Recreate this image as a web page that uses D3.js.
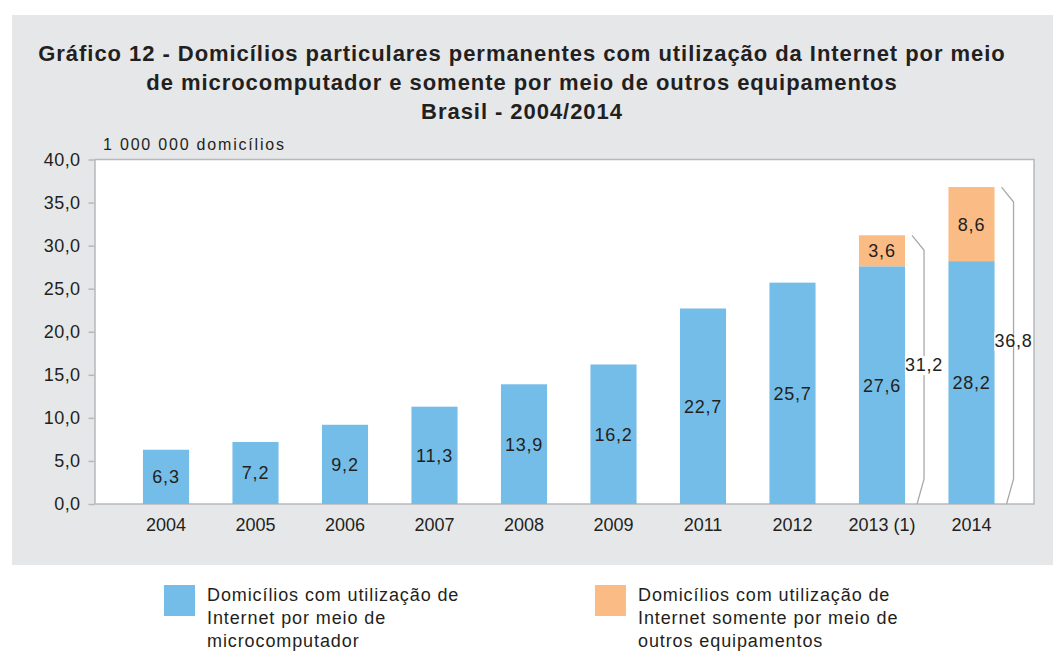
<!DOCTYPE html>
<html><head><meta charset="utf-8">
<script src="https://cdn.jsdelivr.net/npm/d3@7"></script>
<style>body{margin:0;background:#fff}svg{display:block}text{font-family:"Liberation Sans",Arial,Helvetica,sans-serif}</style>
</head><body><svg id="c" width="1053" height="651"></svg>
<script>
const categories = ["2004","2005","2006","2007","2008","2009","2011","2012","2013 (1)","2014"];
const microValues = [6.3,7.2,9.2,11.3,13.9,16.2,22.7,25.7,27.6,28.2];
const otherValues = [0,0,0,0,0,0,0,0,3.6,8.6];
const totalLabels = [null,null,null,null,null,null,null,null,31.2,36.8];
const yTicks = [0,5,10,15,20,25,30,35,40];
const titleLines = ["Gráfico 12 - Domicílios particulares permanentes com utilização da Internet por meio","de microcomputador e somente por meio de outros equipamentos","Brasil - 2004/2014"];
const unitLabel = "1 000 000 domicílios";
const legendItems = [
  {lines:["Domicílios com utilização de","Internet por meio de","microcomputador"], color:"#74bde8"},
  {lines:["Domicílios com utilização de","Internet somente por meio de","outros equipamentos"], color:"#fabb85"}
];

const svg = d3.select("#c");
const fmt = v => d3.format(".1f")(v).replace(".", ",");
const blue = "#74bde8", orange = "#fabb85", txt = "#231f20";
const FF = "Liberation Sans, Arial, sans-serif";

// background panel
svg.append("rect").attr("x",12).attr("y",15).attr("width",1041).attr("height",550).attr("fill","#e6e7e9");

// title
svg.append("g").selectAll("text").data(titleLines).join("text")
  .attr("x",522).attr("y",(d,i)=>61+i*29).attr("text-anchor","middle")
  .attr("font-size",22).attr("font-weight","bold").attr("letter-spacing",0.95).attr("fill",txt).text(d=>d);

const plot = {l:95, r:1034, t:159.5, b:504};
const y = d3.scaleLinear().domain([0,40]).range([plot.b, plot.t]);
const x = d3.scaleBand().domain(categories).range([121.25,1016.25]).paddingInner(0.485).paddingOuter(0.2425);

svg.append("rect").attr("x",plot.l).attr("y",plot.t).attr("width",plot.r-plot.l).attr("height",plot.b-plot.t)
  .attr("fill","#fff").attr("stroke","#b7b8ba").attr("stroke-width",1.5);

// y axis
const yAxis = d3.axisLeft(y).tickValues(yTicks).tickFormat(fmt).tickSize(6).tickPadding(8);
const ga = svg.append("g").attr("transform",`translate(${plot.l-0.5},0)`).call(yAxis);
ga.select(".domain").remove();
ga.selectAll(".tick line").attr("stroke","#b7b8ba").attr("stroke-width",1.5);
ga.selectAll(".tick text").attr("font-size",18).attr("letter-spacing",0.4).attr("fill",txt).attr("font-family",FF);

svg.append("text").attr("x",103).attr("y",150).attr("font-size",16).attr("fill",txt).attr("letter-spacing",1.8).text(unitLabel);

// x axis
const xAxis = d3.axisBottom(x).tickSize(0).tickPadding(14);
const gx = svg.append("g").attr("transform",`translate(0,${plot.b})`).call(xAxis);
gx.select(".domain").remove();
gx.selectAll(".tick text").attr("font-size",18).attr("fill",txt).attr("font-family",FF);

const data = categories.map((c,i)=>({c, m:microValues[i], o:otherValues[i], t:totalLabels[i]}));

// bars
svg.append("g").selectAll("rect").data(data).join("rect")
  .attr("x",d=>x(d.c)).attr("width",x.bandwidth())
  .attr("y",d=>y(d.m)).attr("height",d=>y(0)-y(d.m)).attr("fill",blue);
svg.append("g").selectAll("rect").data(data.filter(d=>d.o>0)).join("rect")
  .attr("x",d=>x(d.c)).attr("width",x.bandwidth())
  .attr("y",d=>y(d.m+d.o)).attr("height",d=>y(d.m)-y(d.m+d.o)).attr("fill",orange);

// labels
svg.append("g").selectAll("text").data(data).join("text")
  .attr("x",d=>x(d.c)+x.bandwidth()/2).attr("y",d=>(y(d.m)+y(0))/2+6.5)
  .attr("text-anchor","middle").attr("font-size",18).attr("fill",txt).attr("letter-spacing",0.8).text(d=>fmt(d.m));
svg.append("g").selectAll("text").data(data.filter(d=>d.o>0)).join("text")
  .attr("x",d=>x(d.c)+x.bandwidth()/2).attr("y",d=>(y(d.m)+y(d.m+d.o))/2+6.5)
  .attr("text-anchor","middle").attr("font-size",18).attr("fill",txt).attr("letter-spacing",0.8).text(d=>fmt(d.o));

// brackets
const br = svg.append("g");
data.filter(d=>d.t!=null).forEach(d=>{
  const xr = x(d.c)+x.bandwidth();
  const yt = y(d.m+d.o), y0 = y(0);
  br.append("path").attr("d",`M${xr+7},${yt} L${xr+19},${yt+15} L${xr+19},${y0-25} L${xr+12},${y0}`)
    .attr("fill","none").attr("stroke","#a7a9ac").attr("stroke-width",1.3);
  const cy = (yt+y0)/2 - 5;
  const t = br.append("text").attr("x",xr+19).attr("y",cy+6.5).attr("text-anchor","middle")
    .attr("font-size",18).attr("fill",txt).attr("letter-spacing",0.8).text(fmt(d.t));
  const bb = t.node().getBBox();
  br.insert("rect","text").attr("x",bb.x).attr("y",bb.y+1).attr("width",bb.width).attr("height",bb.height-1).attr("fill","#fff");
});

// legend
const lg = svg.append("g").selectAll("g").data(legendItems).join("g")
  .attr("transform",(d,i)=>`translate(${164+i*431},585)`);
lg.append("rect").attr("width",31).attr("height",31).attr("fill",d=>d.color);
lg.each(function(d){
  d3.select(this).selectAll("text").data(d.lines).join("text")
    .attr("x",43).attr("y",(l,i)=>15.5+i*23).attr("font-size",18).attr("letter-spacing",0.9).attr("fill",txt).text(l=>l);
});
</script></body></html>
